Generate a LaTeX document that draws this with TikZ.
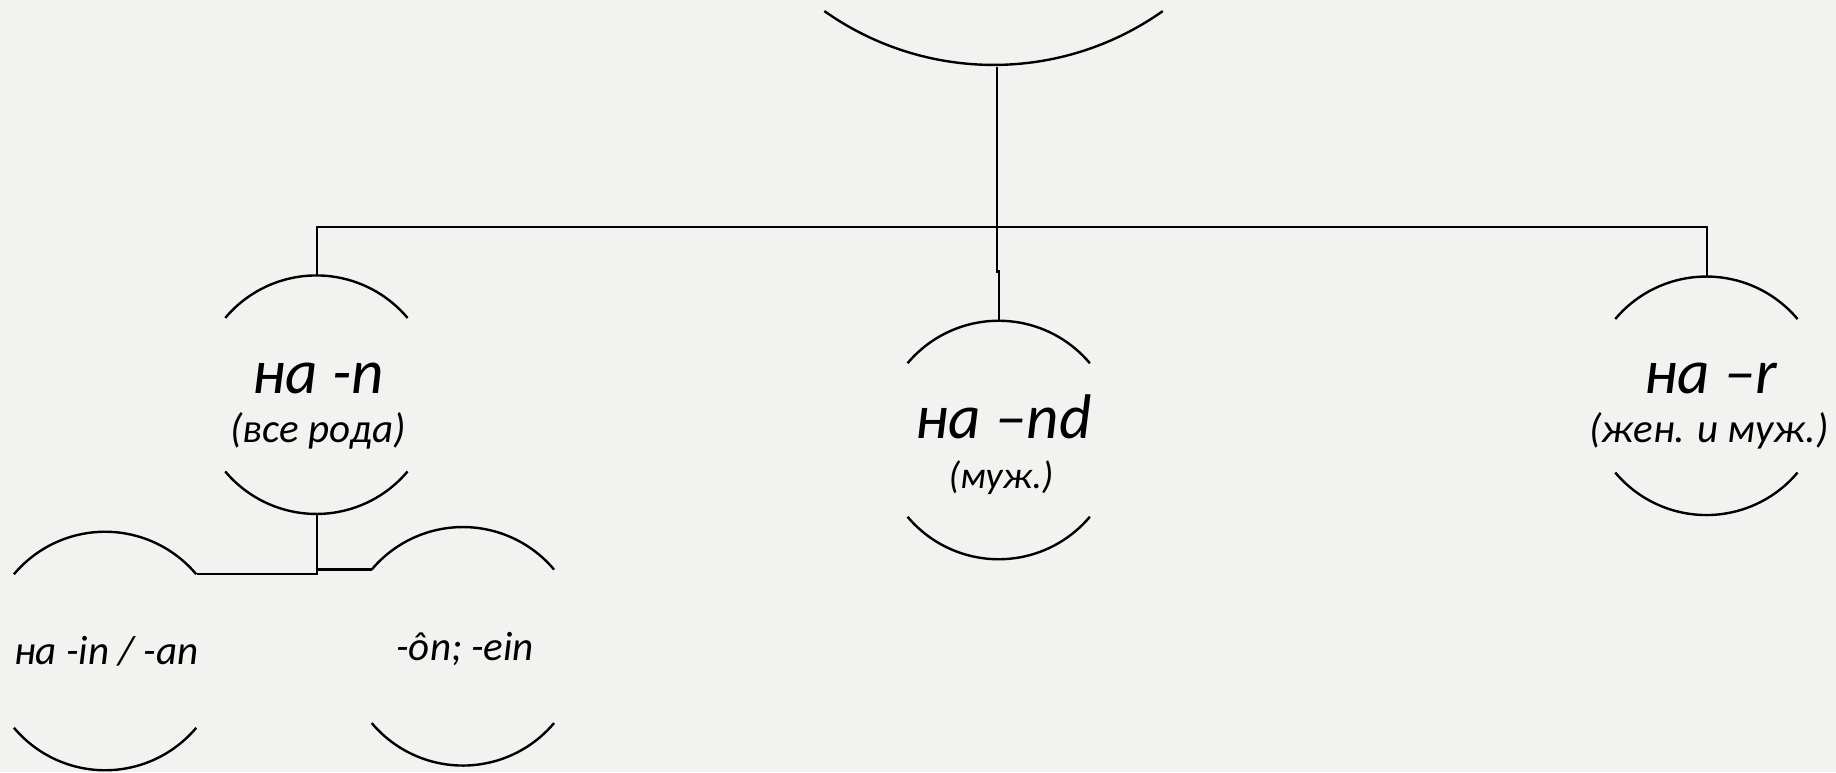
\documentclass[tikz,border=0pt]{standalone}
\usepackage{fontspec}
\setmainfont{Carlito}
\definecolor{bgc}{RGB}{242,242,240}
\begin{document}
\begin{tikzpicture}[x=0.5pt,y=0.5pt,
  ring/.style={circle,draw=none,inner sep=0pt,minimum size=#1},
  arcline/.style={line width=1.2pt,black},
  conn/.style={line width=1.2pt,black},
  big/.style={font=\fontsize{31.5pt}{34pt}\selectfont\itshape,anchor=base,inner sep=0pt},
  mid/.style={font=\fontsize{20.5pt}{23pt}\selectfont\itshape,anchor=base,inner sep=0pt},
  small/.style={font=\fontsize{19pt}{22pt}\selectfont\itshape,anchor=base,inner sep=0pt}]
\fill[bgc] (0,0) rectangle (1836,772);
\useasboundingbox (0,0) rectangle (1836,772);
% ring nodes
\node[ring=292.8pt] (T) at (996.7,998.1) {};
\node[ring=119pt] (N) at (316.7,377.3) {};
\node[ring=119pt] (D) at (999,332) {};
\node[ring=119pt] (R) at (1706.7,376.2) {};
\node[ring=119pt] (BL) at (105.4,121) {};
\node[ring=119pt] (BR) at (463.2,125.7) {};
% arcs
\draw[arcline] (T.234.7) arc[start angle=234.7,end angle=305.3,radius=146.4pt];
\foreach \n in {N,D,R,BL,BR}{
  \draw[arcline] (\n.140) arc[start angle=140,end angle=40,radius=59.5pt];
  \draw[arcline] (\n.220) arc[start angle=220,end angle=320,radius=59.5pt];
}
% texts
\node[big] (Nt) at (318,379) {на -n};
\node[mid] (Ns) at (318,329) {(все рода)};
\node[big] (Dt) at (1003.7,333.7) {на –nd};
\node[small] (Ds) at (1001,284) {(муж.)};
\node[big] (Rt) at (1710.9,378.7) {на –r};
\node[mid] (Rs) at (1708.9,329.3) {(жен. и муж.)};
\node[mid] (BLt) at (106.4,107.7) {на -in / -an};
\node[mid] (BRt) at (465.2,112) {-ôn; -ein};
% connectors
\coordinate (hub) at (996.7,545);
\draw[conn] (T.south) -- (hub);
\draw[conn] (N.north) |- (hub) -| (R.north);
\draw[conn] (hub) -- (996.7,500.3) -- (999,500.3) -- (D.north);
\draw[conn] (N.south) |- (BL.40);
\draw[conn] (N.south |- BR.140) -- (BR.140);
\end{tikzpicture}
\end{document}
